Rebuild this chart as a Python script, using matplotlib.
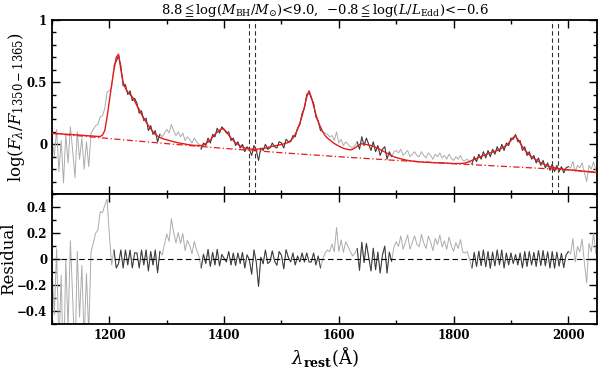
import numpy as np
import matplotlib
matplotlib.use('Agg')
import matplotlib.pyplot as plt
from matplotlib.ticker import MultipleLocator, FuncFormatter

plt.rcParams['font.family'] = ['DejaVu Serif', 'DejaVu Sans']
plt.rcParams['mathtext.fontset'] = 'dejavuserif'

# ---------------- data ----------------
wave = np.arange(1100, 2049, 4)  # rest wavelength grid (Angstrom)

flux = np.array([
    0.06, -0.10, 0.12, -0.22, 0.03, -0.31, 0.08, -0.15, 0.14, -0.05,
    -0.27, 0.10, -0.12, 0.05, -0.20, 0.02, -0.18, 0.09, 0.12, 0.15,
    0.16, 0.22, 0.23, 0.29, 0.42, 0.43, 0.46, 0.63, 0.67, 0.71,
    0.63, 0.47, 0.48, 0.40, 0.43, 0.35, 0.37, 0.33, 0.25, 0.27,
    0.19, 0.21, 0.11, 0.15, 0.08, 0.11, 0.02, 0.08, 0.06, 0.09,
    0.12, 0.09, 0.16, 0.11, 0.07, 0.10, 0.06, 0.09, 0.03, 0.06,
    0.04, 0.01, 0.05, 0.02, 0.00, -0.04, 0.01, -0.01, 0.05, 0.01,
    0.08, 0.06, 0.13, 0.09, 0.14, 0.12, 0.09, 0.10, 0.03, 0.05,
    -0.01, 0.02, -0.03, 0.00, -0.06, -0.02, -0.04, -0.09, -0.01, -0.05,
    -0.13, -0.03, -0.05, 0.00, -0.04, -0.03, 0.01, -0.02, -0.03, 0.02,
    0.01, -0.03, 0.04, 0.02, 0.02, 0.07, 0.06, 0.13, 0.16, 0.25,
    0.29, 0.40, 0.42, 0.37, 0.33, 0.22, 0.19, 0.11, 0.10, 0.09,
    0.08, 0.06, 0.07, 0.03, 0.10, 0.01, 0.04, -0.01, 0.02, 0.00,
    -0.02, -0.03, -0.01, 0.02, -0.04, 0.06, -0.01, 0.05, 0.00, -0.05,
    0.02, -0.06, -0.01, -0.09, -0.04, -0.02, -0.12, -0.06, -0.10, -0.06,
    -0.05, -0.07, -0.04, -0.09, -0.07, -0.05, -0.10, -0.08, -0.06, -0.09,
    -0.10, -0.06, -0.09, -0.11, -0.07, -0.09, -0.12, -0.08, -0.10, -0.07,
    -0.11, -0.09, -0.12, -0.08, -0.11, -0.13, -0.10, -0.12, -0.09, -0.13,
    -0.13, -0.12, -0.14, -0.16, -0.10, -0.14, -0.08, -0.12, -0.06, -0.11,
    -0.05, -0.10, -0.04, -0.08, -0.02, -0.06, 0.00, -0.05, 0.01, -0.01,
    0.05, 0.04, 0.08, 0.02, 0.03, -0.05, -0.02, -0.09, -0.06, -0.12,
    -0.09, -0.15, -0.11, -0.17, -0.13, -0.19, -0.15, -0.21, -0.16, -0.22,
    -0.17, -0.22, -0.18, -0.23, -0.19, -0.18, -0.19, -0.14, -0.22, -0.17,
    -0.19, -0.15, -0.23, -0.30, -0.17, -0.20, -0.14, -0.21,
])

model = np.array([
    0.088, 0.087, 0.086, 0.085, 0.084, 0.082, 0.081, 0.080, 0.079, 0.078,
    0.076, 0.075, 0.074, 0.072, 0.071, 0.069, 0.068, 0.067, 0.066, 0.064,
    0.063, 0.062, 0.075, 0.110, 0.220, 0.350, 0.480, 0.600, 0.700, 0.725,
    0.600, 0.500, 0.450, 0.420, 0.400, 0.380, 0.350, 0.310, 0.280, 0.240,
    0.210, 0.180, 0.150, 0.125, 0.100, 0.080, 0.066, 0.055, 0.047, 0.041,
    0.036, 0.031, 0.026, 0.021, 0.016, 0.012, 0.008, 0.005, 0.002, -0.002,
    -0.005, -0.007, -0.009, -0.010, -0.010, -0.010, -0.006, 0.005, 0.018, 0.035,
    0.058, 0.080, 0.098, 0.113, 0.125, 0.118, 0.100, 0.075, 0.050, 0.030,
    0.012, 0.000, -0.015, -0.022, -0.030, -0.034, -0.037, -0.039, -0.040, -0.040,
    -0.038, -0.036, -0.034, -0.030, -0.025, -0.021, -0.017, -0.013, -0.009, -0.005,
    -0.002, 0.003, 0.009, 0.015, 0.030, 0.050, 0.080, 0.120, 0.170, 0.230,
    0.300, 0.380, 0.430, 0.380, 0.310, 0.240, 0.180, 0.140, 0.100, 0.070,
    0.050, 0.035, 0.020, 0.006, -0.005, -0.015, -0.024, -0.032, -0.038, -0.042,
    -0.045, -0.040, -0.030, -0.015, -0.002, 0.004, 0.002, -0.002, -0.006, -0.010,
    -0.016, -0.024, -0.033, -0.043, -0.053, -0.063, -0.073, -0.083, -0.092, -0.100,
    -0.107, -0.112, -0.117, -0.122, -0.126, -0.130, -0.133, -0.135, -0.137, -0.139,
    -0.141, -0.142, -0.144, -0.145, -0.146, -0.147, -0.148, -0.149, -0.149, -0.150,
    -0.150, -0.151, -0.152, -0.153, -0.154, -0.155, -0.155, -0.155, -0.155, -0.153,
    -0.150, -0.145, -0.138, -0.130, -0.122, -0.115, -0.106, -0.098, -0.090, -0.084,
    -0.075, -0.069, -0.063, -0.057, -0.050, -0.040, -0.030, -0.020, -0.010, 0.010,
    0.030, 0.055, 0.065, 0.040, 0.010, -0.020, -0.045, -0.065, -0.085, -0.100,
    -0.112, -0.125, -0.138, -0.148, -0.158, -0.167, -0.174, -0.180, -0.185, -0.189,
    -0.193, -0.196, -0.199, -0.201, -0.203, -0.205, -0.207, -0.208, -0.210, -0.212,
    -0.214, -0.216, -0.218, -0.220, -0.222, -0.224, -0.225, -0.227,
])

cont_wave = [1100, 1200, 1300, 1400, 1500, 1600, 1700, 1800, 1900, 2000, 2050]
cont_flux = [0.088, 0.046, 0.005, -0.033, -0.068, -0.100, -0.130, -0.156, -0.181, -0.206, -0.224]

fit_windows = [(1206, 1290), (1360, 1568), (1630, 1694), (1832, 2000)]
marker_lines = [1444, 1454, 1972, 1982]

residual = np.log(10) * (flux - model)

title = (r'8.8$\leqq\log(M_{\rm BH}/M_{\odot})$<9.0,  '
         r'$-$0.8$\leqq\log(L/L_{\rm Edd})$<$-$0.6')

# ---------------- figure ----------------
light = '#acacac'
dark = '#3a3a3a'
red = '#e41a1c'

fig = plt.figure(figsize=(6.0, 3.69), dpi=100)
ax1 = fig.add_axes([0.0867, 0.4743, 0.9083, 0.4715])
ax2 = fig.add_axes([0.0867, 0.1220, 0.9083, 0.3523], sharex=ax1)

ax1.plot(wave, flux, color=light, lw=0.7, zorder=2)
for lo, hi in fit_windows:
    m = (wave >= lo) & (wave <= hi)
    ax1.plot(wave[m], flux[m], color=dark, lw=0.7, zorder=3)
ax1.plot(wave, model, color=red, lw=1.0, zorder=4)
ax1.plot(cont_wave, cont_flux, color=red, lw=0.9, ls=(0, (5, 2, 1, 2)), zorder=4)
for xv in marker_lines:
    ax1.axvline(xv, color='#333333', lw=0.8, ls=(0, (4, 2.5)), zorder=1)

ax2.plot(wave, residual, color=light, lw=0.7, zorder=2)
for lo, hi in fit_windows:
    m = (wave >= lo) & (wave <= hi)
    ax2.plot(wave[m], residual[m], color=dark, lw=0.7, zorder=3)
ax2.axhline(0, color='black', lw=0.8, ls=(0, (5, 3)), zorder=4)

ax1.set_xlim(1100, 2050)
ax1.set_ylim(-0.4, 1.0)
ax2.set_ylim(-0.5, 0.5)

fmt = FuncFormatter(lambda v, p: ('%g' % v).replace('-', '\u2212'))
ax1.yaxis.set_major_locator(MultipleLocator(0.5))
ax1.yaxis.set_minor_locator(MultipleLocator(0.1))
ax2.yaxis.set_major_locator(MultipleLocator(0.2))
ax2.yaxis.set_minor_locator(MultipleLocator(0.1))
ax2.xaxis.set_major_locator(MultipleLocator(200))
ax2.xaxis.set_minor_locator(MultipleLocator(100))
for ax in (ax1, ax2):
    ax.yaxis.set_major_formatter(fmt)
    ax.tick_params(which='both', direction='in', top=True, right=True, width=1.0)
    ax.tick_params(which='major', length=6)
    ax.tick_params(which='minor', length=3)
    for s in ax.spines.values():
        s.set_linewidth(1.3)
ax1.tick_params(labelbottom=False, labelsize=8.5)
ax2.tick_params(labelsize=8.5)
for lab in ax2.get_xticklabels() + ax2.get_yticklabels() + ax1.get_yticklabels():
    lab.set_fontweight('bold')

ax1.set_ylabel(r'$\log(F_{\lambda}/F_{1350-1365})$', fontsize=12)
ax2.set_ylabel('Residual', fontsize=12)
ax1.yaxis.set_label_coords(-0.046, 0.5)
ax2.yaxis.set_label_coords(-0.064, 0.5)
ax2.set_xlabel(r'$\lambda_{\mathbf{rest}}(\mathrm{\AA})$', fontsize=13, labelpad=2)
ax1.set_title(title, fontsize=9.5, pad=4)

fig.savefig('out.png', dpi=100)
